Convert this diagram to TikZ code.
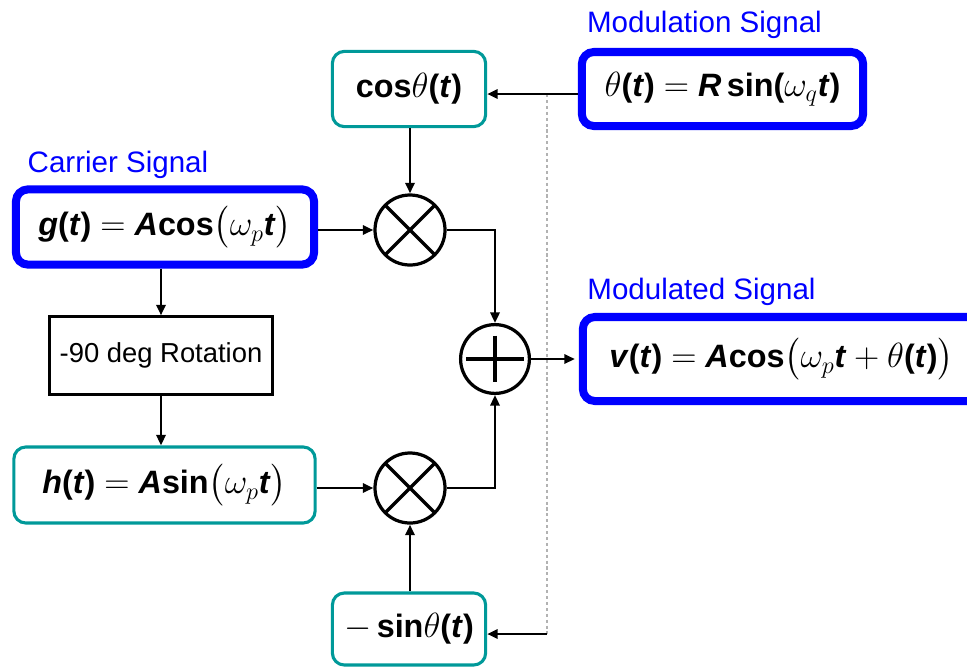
\documentclass[tikz,border=0pt]{standalone}
\usepackage{amsmath}
\usepackage{fontspec}
\setmainfont{Liberation Sans}
\usetikzlibrary{arrows.meta, calc}
\definecolor{sigblue}{RGB}{0,0,255}
\definecolor{fnteal}{RGB}{0,153,153}
\newcommand{\bv}[1]{\textbf{\textit{#1}}}
\newcommand{\bu}[1]{\textbf{#1}}

\begin{document}
\begin{tikzpicture}[
    x=0.025cm, y=-0.025cm,
    every node/.style={font=\fontsize{21}{25}\selectfont},
    sig/.style={draw=sigblue, line width=5.7pt, rounded corners=8.5pt, inner sep=0pt, font=\fontsize{23}{27}\selectfont},
    fn/.style={draw=fnteal, line width=2.2pt, rounded corners=8.5pt, inner sep=0pt, font=\fontsize{23}{27}\selectfont},
    op/.style={draw, line width=2.2pt, inner sep=0pt, font=\fontsize{19.5}{23}\selectfont},
    mix/.style={circle, draw, line width=2.3pt, minimum size=1.75cm, inner sep=0pt,
        path picture={\draw[line width=2.3pt]
            (path picture bounding box.north west) -- (path picture bounding box.south east)
            (path picture bounding box.north east) -- (path picture bounding box.south west);}},
    add/.style={circle, draw, line width=2.3pt, minimum size=1.72cm, inner sep=0pt,
        path picture={\draw[line width=2.3pt]
            ($(path picture bounding box.west)!0.08!(path picture bounding box.east)$) --
            ($(path picture bounding box.west)!0.92!(path picture bounding box.east)$)
            ($(path picture bounding box.north)!0.16!(path picture bounding box.south)$) --
            ($(path picture bounding box.north)!0.84!(path picture bounding box.south)$);}},
    lbl/.style={text=sigblue, anchor=base},
    arr/.style={-{Triangle[length=7.5pt, width=6.5pt]}, line width=2.1pt},
    tapline/.style={gray!60, line width=2pt, dash pattern=on 2.2pt off 2pt},
]
\clip (0,0) rectangle (967,667);

% ── Signal boxes (blue) ──
\node[sig, minimum width=7.03cm, minimum height=1.85cm] (theta) at (722.5,89)
    {$\theta$\bu{(}\bv{t}\bu{)} $=$ \bv{R}\,\bu{sin(}$\omega_q$\bv{t}\bu{)}};
\node[sig, minimum width=7.45cm, minimum height=1.88cm] (g) at (165,227)
    {\bv{g}\bu{(}\bv{t}\bu{)} $=$ \bv{A}\bu{cos}$\bigl(\omega_p$\bv{t}$\bigr)$};
\node[sig, minimum width=9.93cm, minimum height=2.1cm] (v) at (781.5,359)
    {\bv{v}\bu{(}\bv{t}\bu{)} $=$ \bv{A}\bu{cos}$\bigl(\omega_p$\bv{t}${}+\theta$\bu{(}\bv{t}\bu{)}$\bigr)$\hspace{0.7cm}};

% ── Function boxes (teal) ──
\node[fn, minimum width=3.83cm, minimum height=1.88cm] (cosb) at (409,89)
    {\bu{cos}$\theta$\bu{(}\bv{t}\bu{)}};
\node[fn, minimum width=7.53cm, minimum height=1.9cm] (h) at (164.5,485)
    {\bv{h}\bu{(}\bv{t}\bu{)} $=$ \bv{A}\bu{sin}$\bigl(\omega_p$\bv{t}$\bigr)$};
\node[fn, minimum width=3.83cm, minimum height=1.8cm] (msin) at (409,629)
    {$-$\,\bu{sin}$\theta$\bu{(}\bv{t}\bu{)}};

% ── Operators ──
\node[op, minimum width=5.58cm, minimum height=1.93cm] (rot) at (161,355.5) {-90 deg Rotation};
\node[mix] (mx1) at (410,230) {};
\node[mix] (mx2) at (410,488) {};
\node[add] (sum) at (495,359) {};

% ── Labels ──
\node[lbl] (modl) at (704.5,32) {Modulation Signal};
\node[lbl] (carl) at (118,172) {Carrier Signal};
\node[lbl] (modd) at (701.5,299) {Modulated Signal};

% ── Connectors ──
\coordinate (tap) at (547,94);
\coordinate (tapb) at (547,634);
\draw[tapline] (tap) -- (tapb);
\draw[arr] (theta.west |- tap) -- (cosb.east |- tap);
\draw[arr] (tapb) -- (msin.east |- tapb);

\draw[arr] (cosb.south -| mx1) -- (mx1);
\draw[arr] (g.east |- mx1) -- (mx1);
\draw[arr] (mx1.east) -| (sum.north);
\draw[arr] (rot.north |- g.south) -- (rot.north);
\draw[arr] (rot.south) -- (rot.south |- h.north);
\draw[arr] (h.east |- mx2) -- (mx2);
\draw[arr] (msin.north -| mx2) -- (mx2);
\draw[arr] (mx2.east) -| (sum.south);
\draw[arr, shorten >=2.8pt] (sum) -- (v);

\end{tikzpicture}
\end{document}
